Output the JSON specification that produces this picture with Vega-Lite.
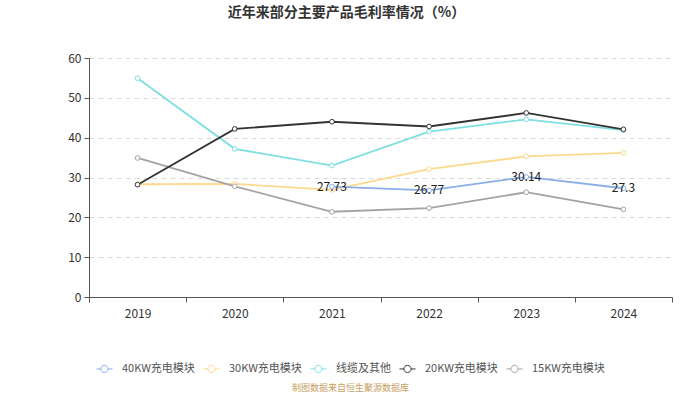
{
  "$schema": "https://vega.github.io/schema/vega-lite/v6.json",
  "width": 583,
  "height": 239,
  "autosize": {"type": "none"},
  "padding": {"left": 89, "top": 58, "right": 28, "bottom": 97},
  "background": "white",
  "config": {
    "font": "Noto Sans CJK SC",
    "view": {"stroke": null}
  },
  "title": {
    "text": "近年来部分主要产品毛利率情况（%）",
    "fontSize": 14,
    "fontWeight": "bold",
    "color": "#333333",
    "anchor": "middle",
    "dx": -34,
    "offset": 32
  },
  "data": {
    "values": [
      {"year": "2019", "series": "30KW充电模块", "value": 28.3},
      {"year": "2020", "series": "30KW充电模块", "value": 28.4},
      {"year": "2021", "series": "30KW充电模块", "value": 26.9},
      {"year": "2022", "series": "30KW充电模块", "value": 32.1},
      {"year": "2023", "series": "30KW充电模块", "value": 35.3},
      {"year": "2024", "series": "30KW充电模块", "value": 36.2},
      {"year": "2019", "series": "15KW充电模块", "value": 34.9},
      {"year": "2020", "series": "15KW充电模块", "value": 27.8},
      {"year": "2021", "series": "15KW充电模块", "value": 21.4},
      {"year": "2022", "series": "15KW充电模块", "value": 22.3},
      {"year": "2023", "series": "15KW充电模块", "value": 26.3},
      {"year": "2024", "series": "15KW充电模块", "value": 22.0},
      {"year": "2019", "series": "线缆及其他", "value": 54.9},
      {"year": "2020", "series": "线缆及其他", "value": 37.2},
      {"year": "2021", "series": "线缆及其他", "value": 33.0},
      {"year": "2022", "series": "线缆及其他", "value": 41.5},
      {"year": "2023", "series": "线缆及其他", "value": 44.6},
      {"year": "2024", "series": "线缆及其他", "value": 41.9},
      {"year": "2019", "series": "20KW充电模块", "value": 28.2},
      {"year": "2020", "series": "20KW充电模块", "value": 42.2},
      {"year": "2021", "series": "20KW充电模块", "value": 44.0},
      {"year": "2022", "series": "20KW充电模块", "value": 42.8},
      {"year": "2023", "series": "20KW充电模块", "value": 46.2},
      {"year": "2024", "series": "20KW充电模块", "value": 42.1},
      {"year": "2021", "series": "40KW充电模块", "value": 27.73},
      {"year": "2022", "series": "40KW充电模块", "value": 26.77},
      {"year": "2023", "series": "40KW充电模块", "value": 30.14},
      {"year": "2024", "series": "40KW充电模块", "value": 27.3}
    ]
  },
  "encoding": {
    "x": {
      "field": "year",
      "type": "ordinal",
      "scale": {"type": "band", "paddingInner": 0, "paddingOuter": 0},
      "axis": {
        "title": "制图数据来自恒生聚源数据库",
        "titleColor": "#c9a063",
        "titleFontSize": 9,
        "titleFontWeight": "normal",
        "titleX": 261,
        "titleY": 86,
        "titleAnchor": "middle",
        "labelAngle": 0,
        "labelFontSize": 12,
        "labelColor": "#333333",
        "labelPadding": 6,
        "domainColor": "#555555",
        "tickColor": "#555555",
        "tickBand": "extent",
        "tickSize": 5,
        "grid": false
      }
    },
    "y": {
      "field": "value",
      "type": "quantitative",
      "scale": {"domain": [0, 60], "nice": false},
      "axis": {
        "title": null,
        "values": [0, 10, 20, 30, 40, 50, 60],
        "labelFontSize": 12,
        "labelColor": "#333333",
        "labelPadding": 3,
        "domainColor": "#555555",
        "tickColor": "#555555",
        "tickSize": 5,
        "gridColor": "#d9d9d9",
        "gridDash": [5, 4]
      }
    },
    "color": {
      "field": "series",
      "type": "nominal",
      "scale": {
        "domain": ["40KW充电模块", "30KW充电模块", "线缆及其他", "20KW充电模块", "15KW充电模块"],
        "range": ["#8aaee8", "#fdd98e", "#7fdfe0", "#333333", "#a3a3a3"]
      },
      "legend": {
        "title": null,
        "orient": "none",
        "direction": "horizontal",
        "legendX": 7,
        "legendY": 302,
        "symbolType": "M-1,0L-0.45,0M0.45,0L1,0M0.45,0A0.45,0.45,0,1,1,-0.45,0A0.45,0.45,0,1,1,0.45,0",
        "symbolSize": 256,
        "symbolStrokeWidth": 1,
        "symbolFillColor": "white",
        "labelFontSize": 11,
        "labelColor": "#555555",
        "labelOffset": 9,
        "columnPadding": 6
      }
    }
  },
  "layer": [
    {
      "mark": {"type": "line", "strokeWidth": 1.8},
      "encoding": {"x": {"field": "year", "type": "ordinal", "bandPosition": 0.5}}
    },
    {
      "mark": {"type": "point", "filled": false, "fill": "white", "fillOpacity": 1, "size": 22, "strokeWidth": 1, "opacity": 1},
      "encoding": {"x": {"field": "year", "type": "ordinal", "bandPosition": 0.5}}
    },
    {
      "transform": [{"filter": "datum.series === '40KW充电模块'"}],
      "mark": {"type": "text", "fontSize": 12, "baseline": "middle", "align": "center"},
      "encoding": {
        "x": {"field": "year", "type": "ordinal", "bandPosition": 0.5},
        "text": {"field": "value", "type": "quantitative"},
        "color": {"value": "#222222"}
      }
    }
  ]
}
